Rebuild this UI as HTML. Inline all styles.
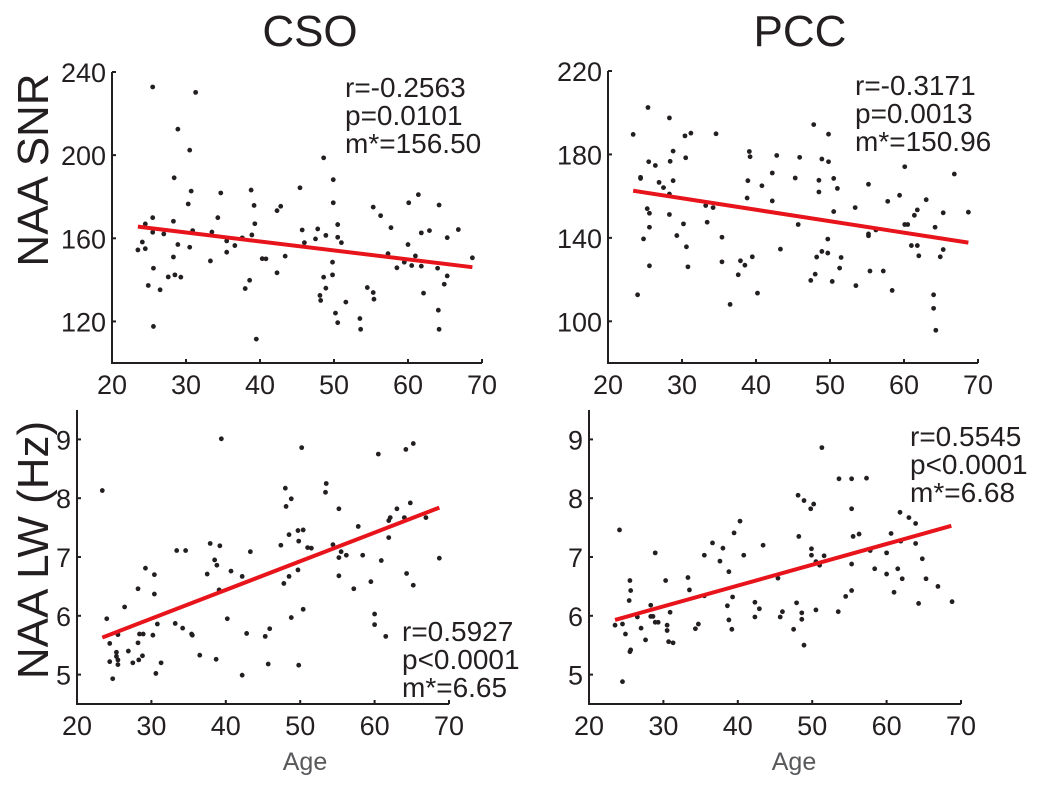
<!DOCTYPE html>
<html><head><meta charset="utf-8"><style>
body{margin:0;background:#fff;}
svg text{font-family:"Liberation Sans",sans-serif;fill:#231f20;}
</style></head><body>
<svg id="chart" width="1039" height="783"></svg>
<script>
const ageTicks=[20,30,40,50,60,70];
const snrTicksCSO=[120,160,200,240];
const snrTicksPCC=[100,140,180,220];
const lwTicks=[5,6,7,8,9];
const csoSnrAge=[23.5,24.1,24.5,24.5,24.9,25.5,25.5,25.6,25.6,26.5,27.0,27.6,28.3,28.3,28.4,28.5,28.9,28.9,29.3,25.5,30.3,30.5,30.5,30.7,30.9,31.3,33.3,33.5,34.3,34.7,35.5,35.5,36.6,37.6,38.0,38.6,38.8,38.9,39.2,39.3,39.5,40.3,40.8,42.3,42.3,42.8,43.4,45.4,45.7,46.0,47.5,47.8,48.1,48.2,48.6,48.6,48.9,48.9,49.8,49.8,49.9,49.9,50.2,50.5,50.5,50.5,51.0,51.6,53.5,53.6,54.5,55.3,55.3,55.4,56.3,57.3,57.7,58.5,59.5,60.0,60.1,60.5,61.0,61.4,61.8,61.8,62.1,62.9,64.0,64.1,64.2,64.2,64.9,65.3,65.3,66.8,68.7];
const csoSnrVal=[154.4,158.2,155.0,166.9,137.3,169.9,162.9,145.6,117.6,135.2,162.1,141.4,168.2,151.0,189.1,142.4,212.5,157.0,141.3,232.8,176.5,155.7,202.4,182.7,163.7,230.2,149.1,163.0,169.9,181.8,153.3,158.7,156.5,160.2,135.8,139.8,183.2,161.6,175.8,167.0,111.5,150.2,150.1,173.3,143.4,175.4,151.4,184.3,164.0,157.9,159.7,164.5,132.5,130.1,141.3,198.7,136.0,161.4,148.5,142.4,188.2,177.1,124.0,166.6,119.4,160.5,157.9,129.3,121.4,116.2,136.3,175.0,133.9,130.7,170.9,152.6,165.1,145.8,148.5,157.0,177.1,146.9,151.5,181.0,162.6,146.6,133.6,163.7,145.6,125.4,176.0,116.2,137.9,160.3,141.9,164.2,150.6];
const pccSnrAge=[23.4,24.0,24.4,24.4,24.8,25.3,25.4,25.5,25.6,25.6,25.6,26.4,26.9,27.5,28.3,28.3,28.3,28.4,28.8,28.8,29.3,30.2,30.4,30.5,30.6,30.8,31.2,33.2,33.4,34.2,34.6,35.4,35.4,36.5,37.6,37.9,38.5,38.8,38.9,39.1,39.2,39.5,40.2,40.8,42.2,42.2,42.8,43.3,45.3,45.7,45.9,47.4,47.8,48.0,48.2,48.5,48.5,48.9,48.9,49.7,49.7,49.8,49.8,50.3,50.5,50.5,51.0,51.3,51.5,53.4,53.5,55.2,55.2,55.2,55.4,56.2,57.2,57.8,58.4,59.4,60.1,60.1,60.5,61.0,61.4,61.8,61.8,62.0,63.0,64.0,64.0,64.2,64.3,64.9,65.3,65.3,66.8,68.7];
const pccSnrVal=[189.6,112.7,168.5,169.0,139.5,154.0,202.5,176.5,151.8,145.1,126.6,174.7,166.6,164.1,161.0,151.2,197.5,176.7,181.6,167.4,141.1,146.7,188.9,178.4,135.7,126.1,190.2,155.5,147.5,154.5,189.9,140.3,128.5,108.1,122.3,129.0,126.9,159.1,167.4,181.4,178.9,130.9,113.5,165.0,171.1,157.7,179.5,134.6,168.7,146.4,178.6,119.6,194.3,122.6,130.8,167.6,162.0,177.8,133.5,139.4,132.7,189.7,176.5,119.1,168.5,152.6,163.7,125.5,130.6,154.5,117.1,165.7,141.0,141.9,124.1,143.8,124.1,157.5,114.8,160.4,174.1,146.4,146.4,136.3,150.8,153.4,136.3,131.4,158.3,112.7,106.2,145.1,95.7,130.9,152.0,134.4,170.6,152.3];
const csoLwAge=[23.4,24.0,24.4,24.4,24.8,25.3,25.3,25.5,25.5,25.5,26.4,26.9,27.5,28.2,28.2,28.3,28.4,28.9,28.8,29.2,30.2,30.4,30.4,30.6,30.8,31.3,33.2,33.4,34.2,34.6,35.4,35.5,36.5,37.5,37.9,38.5,38.8,38.7,39.1,39.2,39.4,40.2,40.7,42.2,42.2,42.8,43.3,45.3,45.7,45.9,47.4,47.8,48.0,48.1,48.5,48.5,48.8,48.8,49.7,49.7,49.8,49.8,50.2,50.4,50.4,51.0,51.5,53.4,53.5,54.4,55.2,55.2,55.2,55.5,56.2,57.2,57.8,58.4,59.5,60.0,60.0,60.5,60.9,61.5,61.9,61.9,62.1,63.0,64.0,64.2,64.3,64.8,65.2,65.2,66.9,68.7];
const csoLwVal=[8.13,5.95,5.53,5.22,4.93,5.38,5.31,5.17,5.68,5.25,6.15,5.40,5.20,6.46,5.54,5.25,5.69,5.69,5.32,6.81,5.67,6.70,6.37,5.02,5.86,5.20,5.87,7.11,5.79,7.11,5.69,5.67,5.33,6.71,7.23,6.95,6.86,5.26,6.44,7.19,9.01,5.95,6.76,6.67,4.99,5.70,7.09,5.65,5.18,5.78,7.20,6.55,8.17,7.86,7.38,6.67,7.99,5.97,6.78,7.45,7.27,5.16,8.86,6.11,7.46,7.16,7.15,8.10,8.25,7.21,7.82,6.99,6.68,7.09,7.03,6.46,7.52,7.03,6.58,6.03,5.85,8.75,6.94,5.65,7.33,7.62,7.67,7.82,7.67,8.83,6.72,7.92,8.93,6.52,7.67,6.98];
const pccLwAge=[23.5,24.1,24.5,24.5,24.9,25.4,25.5,25.6,25.5,25.6,26.5,27.0,27.6,28.3,28.3,28.6,28.9,28.9,29.3,30.3,30.5,30.5,30.7,30.9,31.3,33.3,33.5,34.3,34.7,35.5,35.5,36.6,37.6,38.0,38.6,38.8,38.8,39.2,39.3,39.5,40.3,40.8,42.3,42.3,42.9,43.4,45.4,45.7,46.0,47.5,47.9,48.1,48.2,48.6,48.6,48.9,48.9,49.8,49.9,49.9,50.2,50.5,50.5,51.0,51.3,51.6,53.5,53.6,54.5,55.3,55.3,55.3,55.3,55.5,56.3,57.3,57.8,58.4,60.0,60.0,60.6,61.0,61.5,61.8,61.9,62.1,63.0,63.9,63.9,64.3,64.8,65.3,66.9,68.8];
const pccLwVal=[5.84,7.46,5.86,4.88,5.69,6.26,6.60,6.43,5.39,5.42,5.98,5.79,5.59,6.18,5.99,5.99,7.07,5.89,5.89,6.60,5.84,5.75,5.56,6.06,5.54,6.65,6.44,5.78,5.86,7.03,6.34,7.24,6.93,7.15,6.17,6.75,5.93,5.77,6.32,7.41,7.61,7.03,5.98,6.23,6.12,7.20,6.64,5.98,6.07,5.77,6.22,8.05,7.35,6.05,5.94,7.96,5.50,7.82,7.14,7.03,7.90,6.10,6.92,6.86,8.86,7.02,6.07,8.33,6.33,8.33,7.82,6.88,6.43,7.35,7.39,8.34,7.11,6.80,7.07,6.71,7.40,6.40,6.80,7.76,7.27,6.63,7.67,7.57,7.23,6.21,6.97,6.63,6.50,6.24];
const fitAge=[[23.5,68.7],[23.4,68.7],[23.4,68.7],[23.5,68.7]];
const fitVal=[[165.6,146.1],[162.6,137.7],[5.63,7.84],[5.93,7.53]];
const statLines=[["r=-0.2563","p=0.0101","m*=156.50"],["r=-0.3171","p=0.0013","m*=150.96"],["r=0.5927","p<0.0001","m*=6.65"],["r=0.5545","p<0.0001","m*=6.68"]];

const NS='http://www.w3.org/2000/svg';
const svg=document.getElementById('chart');
function mk(tag,attrs,parent){const e=document.createElementNS(NS,tag);for(const k in attrs)e.setAttribute(k,attrs[k]);(parent||svg).appendChild(e);return e;}

const panels=[
 {name:'cso-snr',x0:112,x1:482,yTop:72,yBot:363,vMin:100,vMax:240,yt:snrTicksCSO,ages:csoSnrAge,vals:csoSnrVal,st:[345,97]},
 {name:'pcc-snr',x0:608,x1:978,yTop:71,yBot:363,vMin:80,vMax:220,yt:snrTicksPCC,ages:pccSnrAge,vals:pccSnrVal,st:[855,95]},
 {name:'cso-lw',x0:77,x1:449,yTop:410,yBot:704,vMin:4.5,vMax:9.5,yt:lwTicks,ages:csoLwAge,vals:csoLwVal,st:[402,641]},
 {name:'pcc-lw',x0:589,x1:961,yTop:410,yBot:704,vMin:4.5,vMax:9.5,yt:lwTicks,ages:pccLwAge,vals:pccLwVal,st:[910,446]}
];
panels.forEach((p,i)=>{
 const g=mk('g',{});
 
 
 const xs=a=>p.x0+(a-20)/50*(p.x1-p.x0);
 const ys=v=>p.yBot-(v-p.vMin)/(p.vMax-p.vMin)*(p.yBot-p.yTop);
 const ax=mk('path',{d:`M${p.x0},${p.yTop}V${p.yBot}H${p.x1}`,fill:'none',stroke:'#231f20','stroke-width':2},g);
 
 
 ageTicks.forEach(t=>{
  mk('line',{x1:xs(t),x2:xs(t),y1:p.yBot,y2:p.yBot-4,stroke:'#231f20','stroke-width':2},g);
  const tx=mk('text',{x:xs(t),y:p.yBot+31,'text-anchor':'middle','font-size':27},g);
  tx.textContent=t;
  
  
 });
 p.yt.forEach(t=>{
  mk('line',{x1:p.x0,x2:p.x0+4,y1:ys(t),y2:ys(t),stroke:'#231f20','stroke-width':2},g);
  const tx=mk('text',{x:p.x0-6,y:ys(t)+10,'text-anchor':'end','font-size':27},g);
  tx.textContent=t;
  
  
 });
 p.ages.forEach((a,j)=>{
  const c=mk('circle',{cx:xs(a),cy:ys(p.vals[j]),r:2.4,fill:'#231f20'},g);
  
  
 });
 const l=mk('line',{x1:xs(fitAge[i][0]),y1:ys(fitVal[i][0]),x2:xs(fitAge[i][1]),y2:ys(fitVal[i][1]),stroke:'#e8141b','stroke-width':4},g);
 
 
 statLines[i].forEach((s,k)=>{
  const t=mk('text',{x:p.st[0],y:p.st[1]+k*28,'font-size':28},g);
  t.textContent=s;
  
  
 });
});
function label(txt,x,y,size,name,rot,fill){
 const t=mk('text',{x:x,y:y,'font-size':size,'text-anchor':'middle'});
 if(rot)t.setAttribute('transform',`rotate(-90 ${x} ${y})`);
 if(fill)t.setAttribute('style','fill:'+fill);
 t.textContent=txt;
 
 
}
label('CSO',310,46,44,'cso-title');
label('PCC',800,46,44,'pcc-title');
label('NAA SNR',48,170,44,'y-axis-title-snr',true);
label('NAA LW (Hz)',48,550,44,'y-axis-title-lw',true);
label('Age',305,770,25,'x-axis-title-left',false,'#58595b');
label('Age',794,770,25,'x-axis-title-right',false,'#58595b');
</script>
</body></html>
